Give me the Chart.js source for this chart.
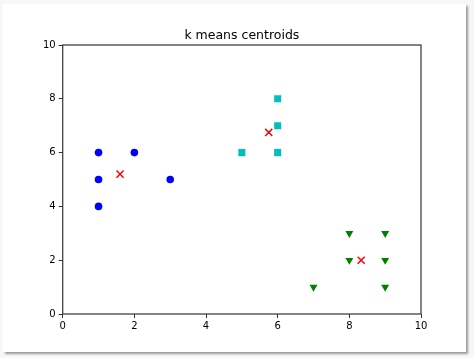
<!DOCTYPE html>
<html><head><meta charset="utf-8">
<script src="https://cdn.jsdelivr.net/npm/chart.js@4/dist/chart.umd.min.js"></script>
<style>
html,body{margin:0;padding:0;background:#f7f7f7;width:474px;height:358px;overflow:hidden}
#frame{position:absolute;left:3px;top:4px;width:463px;height:348px;background:#fff;box-shadow:2px 2px 2px #9a9a9a}
#c{position:absolute;left:0;top:0}
</style></head><body>
<div id="frame"></div>
<canvas id="c" width="474" height="358"></canvas>
<script>
const titleText = "k means centroids";
const cluster1X = [1, 1, 1, 2, 3];
const cluster1Y = [6, 5, 4, 6, 5];
const cluster2X = [5, 6, 6, 6];
const cluster2Y = [6, 8, 7, 6];
const cluster3X = [8, 9, 8, 9, 7, 9];
const cluster3Y = [3, 3, 2, 2, 1, 1];
const centroidX = [1.6, 5.75, 8.33];
const centroidY = [5.2, 6.75, 2.0];
const xTicks = [0, 2, 4, 6, 8, 10];
const yTicks = [0, 2, 4, 6, 8, 10];

const pts = (xs, ys) => xs.map((x, i) => ({x: x, y: ys[i]}));

const frameBox = {
  id: 'frameBox',
  afterDatasetsDraw(chart) {
    const a = chart.chartArea, ctx = chart.ctx;
    ctx.save();
    ctx.strokeStyle = '#333';
    ctx.lineWidth = 1.2;
    ctx.strokeRect(a.left, a.top, a.right - a.left, a.bottom - a.top);
    ctx.fillStyle = '#000';
    ctx.font = '12.5px "DejaVu Sans"';
    ctx.textAlign = 'center';
    ctx.textBaseline = 'alphabetic';
    ctx.fillText(titleText, (a.left + a.right) / 2, a.top - 6);
    ctx.restore();
  }
};

const font = {family: 'DejaVu Sans', size: 10};
new Chart(document.getElementById('c'), {
  type: 'scatter',
  data: {
    datasets: [
      {data: pts(cluster1X, cluster1Y), pointStyle: 'circle', pointRadius: 3.8, backgroundColor: '#0000ff', borderColor: '#0000ff', borderWidth: 0},
      {data: pts(cluster2X, cluster2Y), pointStyle: 'rect', pointRadius: 5, backgroundColor: '#00bfbf', borderColor: '#00bfbf', borderWidth: 0},
      {data: pts(cluster3X, cluster3Y), pointStyle: 'triangle', rotation: 180, pointRadius: 4.6, backgroundColor: '#008000', borderColor: '#008000', borderWidth: 0},
      {data: pts(centroidX, centroidY), pointStyle: 'crossRot', pointRadius: 5, backgroundColor: '#ff0000', borderColor: '#ff0000', borderWidth: 1.5}
    ]
  },
  options: {
    responsive: false,
    animation: false,
    layout: {padding: {left: 40, right: 53, top: 45, bottom: 24}},
    plugins: {
      legend: {display: false},
      tooltip: {enabled: false},
      title: {display: false}
    },
    scales: {
      x: {
        type: 'linear', min: 0, max: 10,
        afterBuildTicks: s => { s.ticks = xTicks.map(v => ({value: v})); },
        grid: {drawOnChartArea: false, drawTicks: true, tickLength: 4, tickColor: '#333', color: '#333'},
        border: {display: false},
        ticks: {color: '#000', font: font, padding: 2, maxRotation: 0}
      },
      y: {
        type: 'linear', min: 0, max: 10,
        afterBuildTicks: s => { s.ticks = yTicks.map(v => ({value: v})); },
        grid: {drawOnChartArea: false, drawTicks: true, tickLength: 4, tickColor: '#333', color: '#333'},
        border: {display: false},
        ticks: {color: '#000', font: font, padding: 3}
      }
    }
  },
  plugins: [frameBox]
});
</script>
</body></html>
